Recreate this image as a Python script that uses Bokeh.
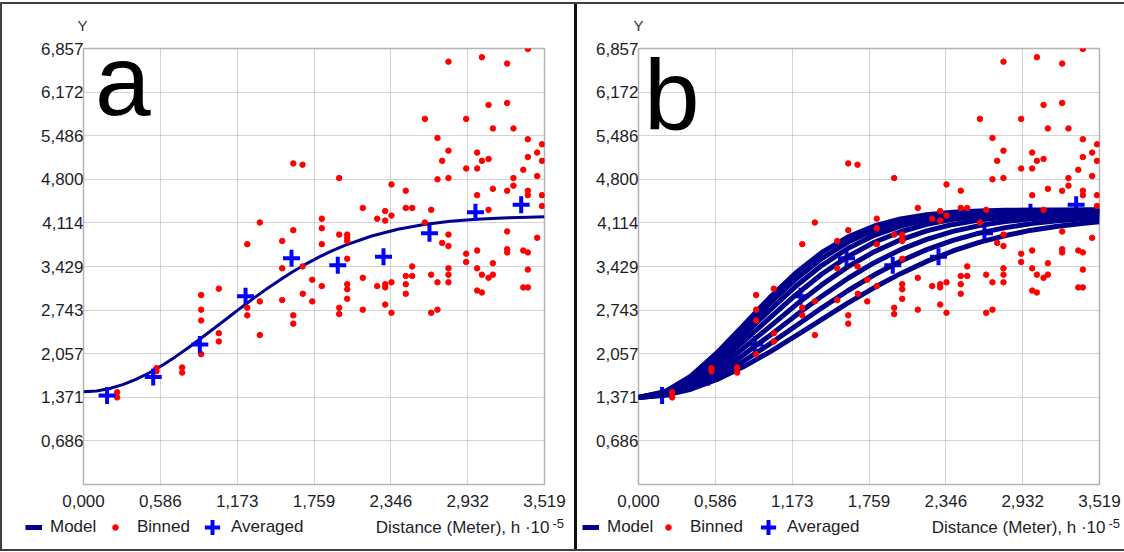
from bokeh.plotting import figure
from bokeh.models import FixedTicker, Label, Legend, LegendItem, Range1d
from bokeh.layouts import row, column
from bokeh.embed import file_html
from bokeh.resources import INLINE

# ---------------- data ----------------
x_ticks = [0.0, 0.5865, 1.173, 1.7595, 2.346, 2.9325, 3.519]
x_tick_labels = ["0,000", "0,586", "1,173", "1,759", "2,346", "2,932", "3,519"]
y_ticks = [0.6857, 1.3714, 2.0571, 2.7428, 3.4285, 4.1142, 4.7999, 5.4856, 6.1713, 6.857]
y_tick_labels = ["0,686", "1,371", "2,057", "2,743", "3,429", "4,114", "4,800", "5,486", "6,172", "6,857"]

binned_x = [0.257, 0.257, 0.557, 0.557, 0.753, 0.753, 0.898, 0.898, 0.898, 0.898,
            1.033, 1.033, 1.033, 1.250, 1.250, 1.250, 1.346, 1.346, 1.346,
            1.517, 1.517, 1.517, 1.601, 1.601, 1.601, 1.601, 1.672, 1.672, 1.674,
            1.746, 1.746, 1.819, 1.819, 1.819, 1.819, 1.952, 1.952, 1.952, 1.952,
            2.013, 2.013, 2.013, 2.013, 2.013, 2.013, 2.013, 2.132, 2.132, 2.132,
            2.242, 2.242, 2.303, 2.303, 2.303, 2.303, 2.303, 2.351, 2.351, 2.351, 2.351,
            2.460, 2.460, 2.460, 2.460, 2.460, 2.509, 2.509, 2.509, 2.606, 2.606,
            2.654, 2.654, 2.654, 2.702, 2.702, 2.702, 2.702, 2.738, 2.738,
            2.786, 2.786, 2.786, 2.786, 2.786, 2.786, 2.786, 2.786,
            2.921, 2.921, 2.921, 2.921, 3.005, 3.005, 3.005, 3.005, 3.005, 3.005,
            3.041, 3.041, 3.041, 3.041, 3.092, 3.092, 3.092, 3.092,
            3.125, 3.125, 3.125, 3.125, 3.234, 3.234, 3.234, 3.234, 3.234, 3.234,
            3.282, 3.282, 3.282, 3.357, 3.357, 3.357,
            3.392, 3.392, 3.392, 3.392, 3.392, 3.392, 3.392, 3.392,
            3.463, 3.463, 3.463, 3.500, 3.500, 3.500, 3.500]
binned_y = [1.45, 1.37, 1.83, 1.78, 1.84, 1.76, 2.98, 2.75, 2.58, 2.05,
            3.08, 2.38, 2.25, 2.78, 2.66, 3.78, 2.88, 2.35, 4.12,
            3.83, 3.40, 2.90, 5.05, 4.00, 2.66, 2.53, 5.03, 3.43, 3.00,
            3.22, 2.88, 4.18, 4.03, 3.78, 3.12, 4.82, 3.93, 2.78, 2.68,
            3.93, 3.88, 3.83, 3.55, 3.15, 3.07, 2.92, 4.35, 3.25, 2.75,
            4.18, 3.12, 4.30, 4.15, 3.15, 3.10, 2.83, 4.72, 4.23, 3.18, 2.70,
            4.62, 4.35, 3.28, 3.15, 3.00, 4.35, 3.43, 3.28, 5.75, 4.12,
            4.32, 3.30, 2.70, 5.45, 4.80, 3.18, 2.75, 5.09, 3.80,
            6.65, 5.25, 4.82, 3.93, 3.75, 3.40, 3.30, 3.18,
            5.75, 4.97, 3.63, 3.50, 5.22, 4.97, 4.55, 3.68, 3.40, 3.05,
            6.72, 5.09, 3.30, 3.02, 5.97, 5.12, 4.32, 3.25,
            5.60, 4.65, 3.48, 3.30, 6.62, 6.00, 4.62, 3.98, 3.70, 3.65,
            5.60, 4.82, 4.70, 4.95, 3.68, 3.10,
            6.85, 5.43, 5.15, 4.62, 4.55, 3.65, 3.38, 3.10,
            5.22, 4.85, 3.88, 5.35, 5.09, 4.55, 4.38]

averaged_x = [0.180, 0.532, 0.888, 1.237, 1.588, 1.941, 2.290, 2.641, 2.992, 3.341]
averaged_y = [1.40, 1.69, 2.20, 2.96, 3.56, 3.45, 3.58, 3.95, 4.28, 4.40]

model_a_x = [0.0, 0.1, 0.2, 0.3, 0.4, 0.5, 0.6, 0.7, 0.8, 0.9, 1.0, 1.1, 1.2, 1.3,
             1.4, 1.5, 1.6, 1.7, 1.8, 1.9, 2.0, 2.2, 2.4, 2.6, 2.8, 3.0, 3.2, 3.4, 3.519]
model_a_y = [1.460, 1.472, 1.509, 1.570, 1.652, 1.754, 1.873, 2.007, 2.151, 2.304,
             2.461, 2.619, 2.777, 2.931, 3.078, 3.218, 3.349, 3.469, 3.579, 3.677,
             3.765, 3.908, 4.014, 4.089, 4.139, 4.172, 4.193, 4.205, 4.210]

model_b_x = [0.0, 0.2, 0.4, 0.6, 0.8, 1.0, 1.2, 1.4, 1.6, 1.8, 2.0, 2.2, 2.4,
             2.6, 2.8, 3.0, 3.2, 3.4, 3.519]
model_b_1 = [1.370, 1.458, 1.706, 2.073, 2.502, 2.935, 3.327, 3.650, 3.894, 4.065,
             4.177, 4.244, 4.282, 4.302, 4.312, 4.317, 4.319, 4.320, 4.320]
model_b_2 = [1.370, 1.451, 1.679, 2.020, 2.425, 2.842, 3.228, 3.556, 3.813, 4.000,
             4.127, 4.208, 4.256, 4.283, 4.297, 4.304, 4.308, 4.309, 4.310]
model_b_3 = [1.370, 1.443, 1.651, 1.964, 2.342, 2.739, 3.117, 3.447, 3.716, 3.919,
             4.064, 4.161, 4.222, 4.258, 4.279, 4.290, 4.295, 4.298, 4.299]
model_b_4 = [1.370, 1.434, 1.619, 1.901, 2.245, 2.617, 2.981, 3.310, 3.588, 3.809,
             3.975, 4.093, 4.172, 4.222, 4.253, 4.270, 4.280, 4.285, 4.287]
model_b_5 = [1.370, 1.425, 1.585, 1.832, 2.140, 2.480, 2.822, 3.143, 3.426, 3.662,
             3.849, 3.989, 4.090, 4.159, 4.204, 4.232, 4.249, 4.259, 4.262]
model_b_6 = [1.370, 1.417, 1.553, 1.766, 2.036, 2.341, 2.656, 2.963, 3.244, 3.489,
             3.693, 3.856, 3.980, 4.071, 4.135, 4.179, 4.207, 4.225, 4.232]
model_b_7 = [1.370, 1.409, 1.524, 1.705, 1.938, 2.207, 2.492, 2.779, 3.051, 3.298,
             3.513, 3.694, 3.840, 3.954, 4.040, 4.103, 4.147, 4.178, 4.191]
model_b_8 = [1.370, 1.403, 1.498, 1.651, 1.850, 2.083, 2.337, 2.598, 2.855, 3.097,
             3.316, 3.509, 3.673, 3.808, 3.915, 4.000, 4.063, 4.109, 4.131]
model_b_curves = [model_b_1, model_b_2, model_b_3, model_b_4,
                  model_b_5, model_b_6, model_b_7, model_b_8]

legend_names = ["Model", "Binned", "Averaged"]
x_title = "Distance (Meter), h \u00b710"
x_title_exp = "-5"
y_title = "Y"

# ---------------- styling ----------------
FONT = "Liberation Sans"
NAVY = "#00008b"
RED = "#ff0000"
BLUE = "#0000ff"
TXT = "#1e1e28"
NAN = float("nan")


def make_main(width, left, right, letter, letter_x, letter_y, title_offset, panel_b):
    p = figure(width=width, height=511, x_range=Range1d(0, 3.519), y_range=Range1d(0, 6.857),
               output_backend="svg", toolbar_location=None, title=y_title,
               min_border_left=left, min_border_right=right,
               min_border_top=44, min_border_bottom=31)
    p.frame_align = False
    p.background_fill_color = "white"
    p.border_fill_color = "white"
    p.outline_line_color = "#b4b4b4"
    p.outline_line_width = 1.5

    p.title.align = "left"
    p.title.vertical_align = "top"
    p.title.offset = title_offset
    p.title.standoff = 25
    p.title.text_font = FONT
    p.title.text_font_size = "15px"
    p.title.text_font_style = "normal"
    p.title.text_color = "#333333"

    p.xaxis.ticker = FixedTicker(ticks=x_ticks)
    p.xaxis.major_label_overrides = dict(zip(x_ticks, x_tick_labels))
    p.yaxis.ticker = FixedTicker(ticks=y_ticks)
    p.yaxis.major_label_overrides = dict(zip(y_ticks, y_tick_labels))
    for ax in (p.xaxis, p.yaxis):
        ax.axis_line_color = None
        ax.major_tick_line_color = None
        ax.minor_tick_line_color = None
        ax.major_tick_out = 0
        ax.major_tick_in = 0
        ax.minor_tick_out = 0
        ax.major_label_text_font = FONT
        ax.major_label_text_font_size = "17px"
        ax.major_label_text_color = TXT
    p.xaxis.major_label_standoff = 10
    p.yaxis.major_label_standoff = 0
    p.yaxis.major_label_text_align = "right"
    p.grid.grid_line_color = "#a8a8a8"
    p.grid.grid_line_dash = "1 1"
    p.grid.grid_line_width = 1

    if not panel_b:
        p.line(model_a_x, model_a_y, line_color=NAVY, line_width=3)
        p.scatter(binned_x, binned_y, marker="circle", size=5.5,
                  fill_color=RED, line_color=RED)
        p.scatter(averaged_x, averaged_y, marker="cross", size=17,
                  line_color=BLUE, line_width=4)
    else:
        p.scatter(averaged_x, averaged_y, marker="cross", size=17,
                  line_color=BLUE, line_width=4)
        for cy in model_b_curves:
            p.line(model_b_x, cy, line_color=NAVY, line_width=5)
        p.scatter(binned_x, binned_y, marker="circle", size=5.5,
                  fill_color=RED, line_color=RED)

    p.add_layout(Label(x=letter_x, y=letter_y, x_units="screen", y_units="screen", text=letter,
                       text_align="left", text_baseline="alphabetic",
                       text_font=FONT, text_font_size="100px", text_color="black"))
    return p


def make_strip(width, model_x, binned_x0, avg_x0, title_right, exp_left):
    s = figure(width=width, height=34, x_range=Range1d(0, 1), y_range=Range1d(0, 1),
               output_backend="svg", toolbar_location=None,
               x_axis_location=None, y_axis_location=None,
               min_border_left=0, min_border_right=0, min_border_top=0, min_border_bottom=0)
    s.frame_align = False
    s.grid.visible = False
    s.outline_line_color = None
    s.background_fill_color = "white"
    s.border_fill_color = "white"

    # legend proxies (no visible data)
    r_model = s.line([NAN], [NAN], line_color=NAVY, line_width=5)
    r_binned = s.scatter([NAN], [NAN], marker="circle", fill_color=RED, line_color=RED)
    r_avg = s.scatter([NAN], [NAN], marker="cross", line_color=BLUE, line_width=4)

    def add_legend(item_name, renderer, loc, gw, gh, standoff):
        lg = Legend(items=[LegendItem(label=item_name, renderers=[renderer])],
                    location=loc, orientation="horizontal",
                    glyph_width=gw, glyph_height=gh, label_standoff=standoff,
                    padding=0, margin=0, spacing=0,
                    border_line_color=None, background_fill_alpha=0,
                    label_text_font=FONT, label_text_font_size="17px",
                    label_text_color=TXT)
        s.add_layout(lg, "center")

    add_legend(legend_names[0], r_model, (model_x, 12), 17, 20, 8)
    add_legend(legend_names[1], r_binned, (binned_x0, 12), 14, 14, 15)
    add_legend(legend_names[2], r_avg, (avg_x0, 3), 38, 38, 0)

    s.add_layout(Label(x=title_right, y=22, x_units="screen", y_units="screen", text=x_title,
                       text_align="right", text_baseline="middle",
                       text_font=FONT, text_font_size="17px", text_color=TXT))
    s.add_layout(Label(x=exp_left, y=26.5, x_units="screen", y_units="screen", text=x_title_exp,
                       text_align="left", text_baseline="middle",
                       text_font=FONT, text_font_size="13px", text_color=TXT))
    return s


pa = make_main(572, 81, 30, "a", 11.5, 405, -6, False)
sa = make_strip(572, 23, 106, 191, 547, 550)
pb = make_main(547, 61, 25, "b", 5.4, 390, -5, True)
sb = make_strip(547, 5, 84, 172, 528, 531)

col_a = column(pa, sa, spacing=0)
col_b = column(pb, sb, spacing=0, styles={"border-left": "3px solid #101010"})

p = row(col_a, col_b, spacing=0,
        styles={"border-top": "2px solid #404040", "border-bottom": "2px solid #404040",
                "border-left": "2px solid #404040", "margin-top": "2px"})

open("out.html", "w").write(file_html(p, INLINE))
